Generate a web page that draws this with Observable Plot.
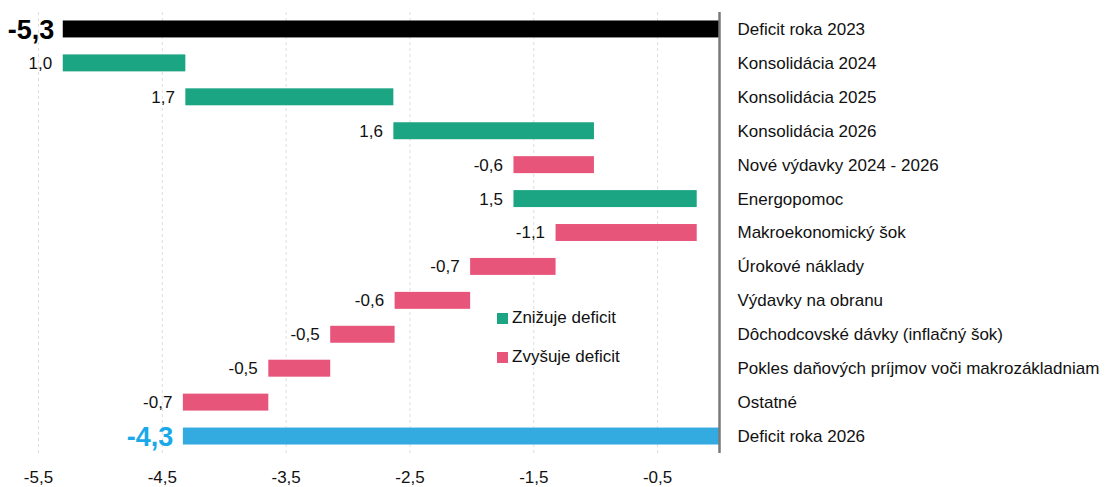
<!DOCTYPE html>
<html>
<head>
<meta charset="utf-8">
<script src="https://cdn.jsdelivr.net/npm/d3@7"></script>
<script src="https://cdn.jsdelivr.net/npm/@observablehq/plot@0.6"></script>
<style>
  html, body { margin: 0; padding: 0; background: #fff; }
  #wrap { position: relative; width: 1110px; height: 487px; font-family: "Liberation Sans", Arial, sans-serif; }
  .legend { position: absolute; left: 497px; font-size: 17px; color: #111; display: flex; align-items: center; }
  .legend span.sw { display: inline-block; width: 11px; height: 11px; margin-right: 4px; }
</style>
</head>
<body>
<div id="wrap"></div>
<script>
const categories = [
  "Deficit roka 2023",
  "Konsolidácia 2024",
  "Konsolidácia 2025",
  "Konsolidácia 2026",
  "Nové výdavky 2024 - 2026",
  "Energopomoc",
  "Makroekonomický šok",
  "Úrokové náklady",
  "Výdavky na obranu",
  "Dôchodcovské dávky (inflačný šok)",
  "Pokles daňových príjmov voči makrozákladniam",
  "Ostatné",
  "Deficit roka 2026"
];
const values = [-5.3, 0.99, 1.68, 1.62, -0.65, 1.48, -1.14, -0.69, -0.61, -0.52, -0.50, -0.69, -4.33];
const valueLabels = ["-5,3", "1,0", "1,7", "1,6", "-0,6", "1,5", "-1,1", "-0,7", "-0,6", "-0,5", "-0,5", "-0,7", "-4,3"];
const kinds = ["start", "change", "change", "change", "change", "change", "change", "change", "change", "change", "change", "change", "end"];
const xTicks = [-5.5, -4.5, -3.5, -2.5, -1.5, -0.5];
const legendItems = ["Znižuje deficit", "Zvyšuje deficit"];

const colors = { start: "#000000", end: "#33aae0", up: "#1ba583", down: "#e8557a" };

// build waterfall rows
let running = 0;
const rows = categories.map((c, i) => {
  const v = values[i];
  let x1, x2, color;
  if (kinds[i] === "start" || kinds[i] === "end") {
    x1 = v; x2 = 0; running = v;
    color = colors[kinds[i]];
  } else {
    x1 = running; x2 = running + v; running = x2;
    color = v >= 0 ? colors.up : colors.down;
  }
  return { cat: c, x1, x2, left: Math.min(x1, x2), label: valueLabels[i], kind: kinds[i], color };
});

const fmt = d => String(d).replace(".", ",");

const plot = Plot.plot({
  width: 1110,
  height: 487,
  marginLeft: 38,
  marginRight: 391,
  marginTop: 12,
  marginBottom: 34,
  style: { fontFamily: "Liberation Sans, Arial, sans-serif", fontSize: "17px", color: "#111", background: "#fff" },
  x: { domain: [-5.5, 0] },
  y: { type: "band", domain: categories, paddingInner: 0.5, paddingOuter: 0.25, round: false },
  marks: [
    Plot.gridX(xTicks, { stroke: "#dedede", strokeOpacity: 1, strokeDasharray: "3,3" }),
    Plot.barX(rows, { y: "cat", x1: "x1", x2: "x2", fill: "color" }),
    Plot.ruleX([0], { stroke: "#7a7a7a", strokeWidth: 2.5 }),
    Plot.text(rows.filter(d => d.kind === "change"), {
      y: "cat", x: "left", text: "label", textAnchor: "end", dx: -11, fill: "#111", fontSize: 17
    }),
    Plot.text(rows.filter(d => d.kind === "start"), {
      y: "cat", x: "left", text: "label", textAnchor: "end", dx: -9, fill: "#000", fontSize: 27, fontWeight: "bold", dy: 1
    }),
    Plot.text(rows.filter(d => d.kind === "end"), {
      y: "cat", x: "left", text: "label", textAnchor: "end", dx: -10, fill: "#1aa9e8", fontSize: 27, fontWeight: "bold", dy: 1
    }),
    Plot.axisX({ ticks: xTicks, tickFormat: fmt, tickSize: 0, tickPadding: 17, fontSize: 17, label: null }),
    Plot.axisY({ anchor: "right", tickSize: 0, tickPadding: 18, fontSize: 17, label: null })
  ]
});

const wrap = document.getElementById("wrap");
wrap.appendChild(plot);

const legendColors = [colors.up, colors.down];
const legendTops = [308, 347];
legendItems.forEach((t, i) => {
  const d = document.createElement("div");
  d.className = "legend";
  d.style.top = legendTops[i] + "px";
  d.innerHTML = `<span class="sw" style="background:${legendColors[i]}"></span>${t}`;
  wrap.appendChild(d);
});
</script>
</body>
</html>
